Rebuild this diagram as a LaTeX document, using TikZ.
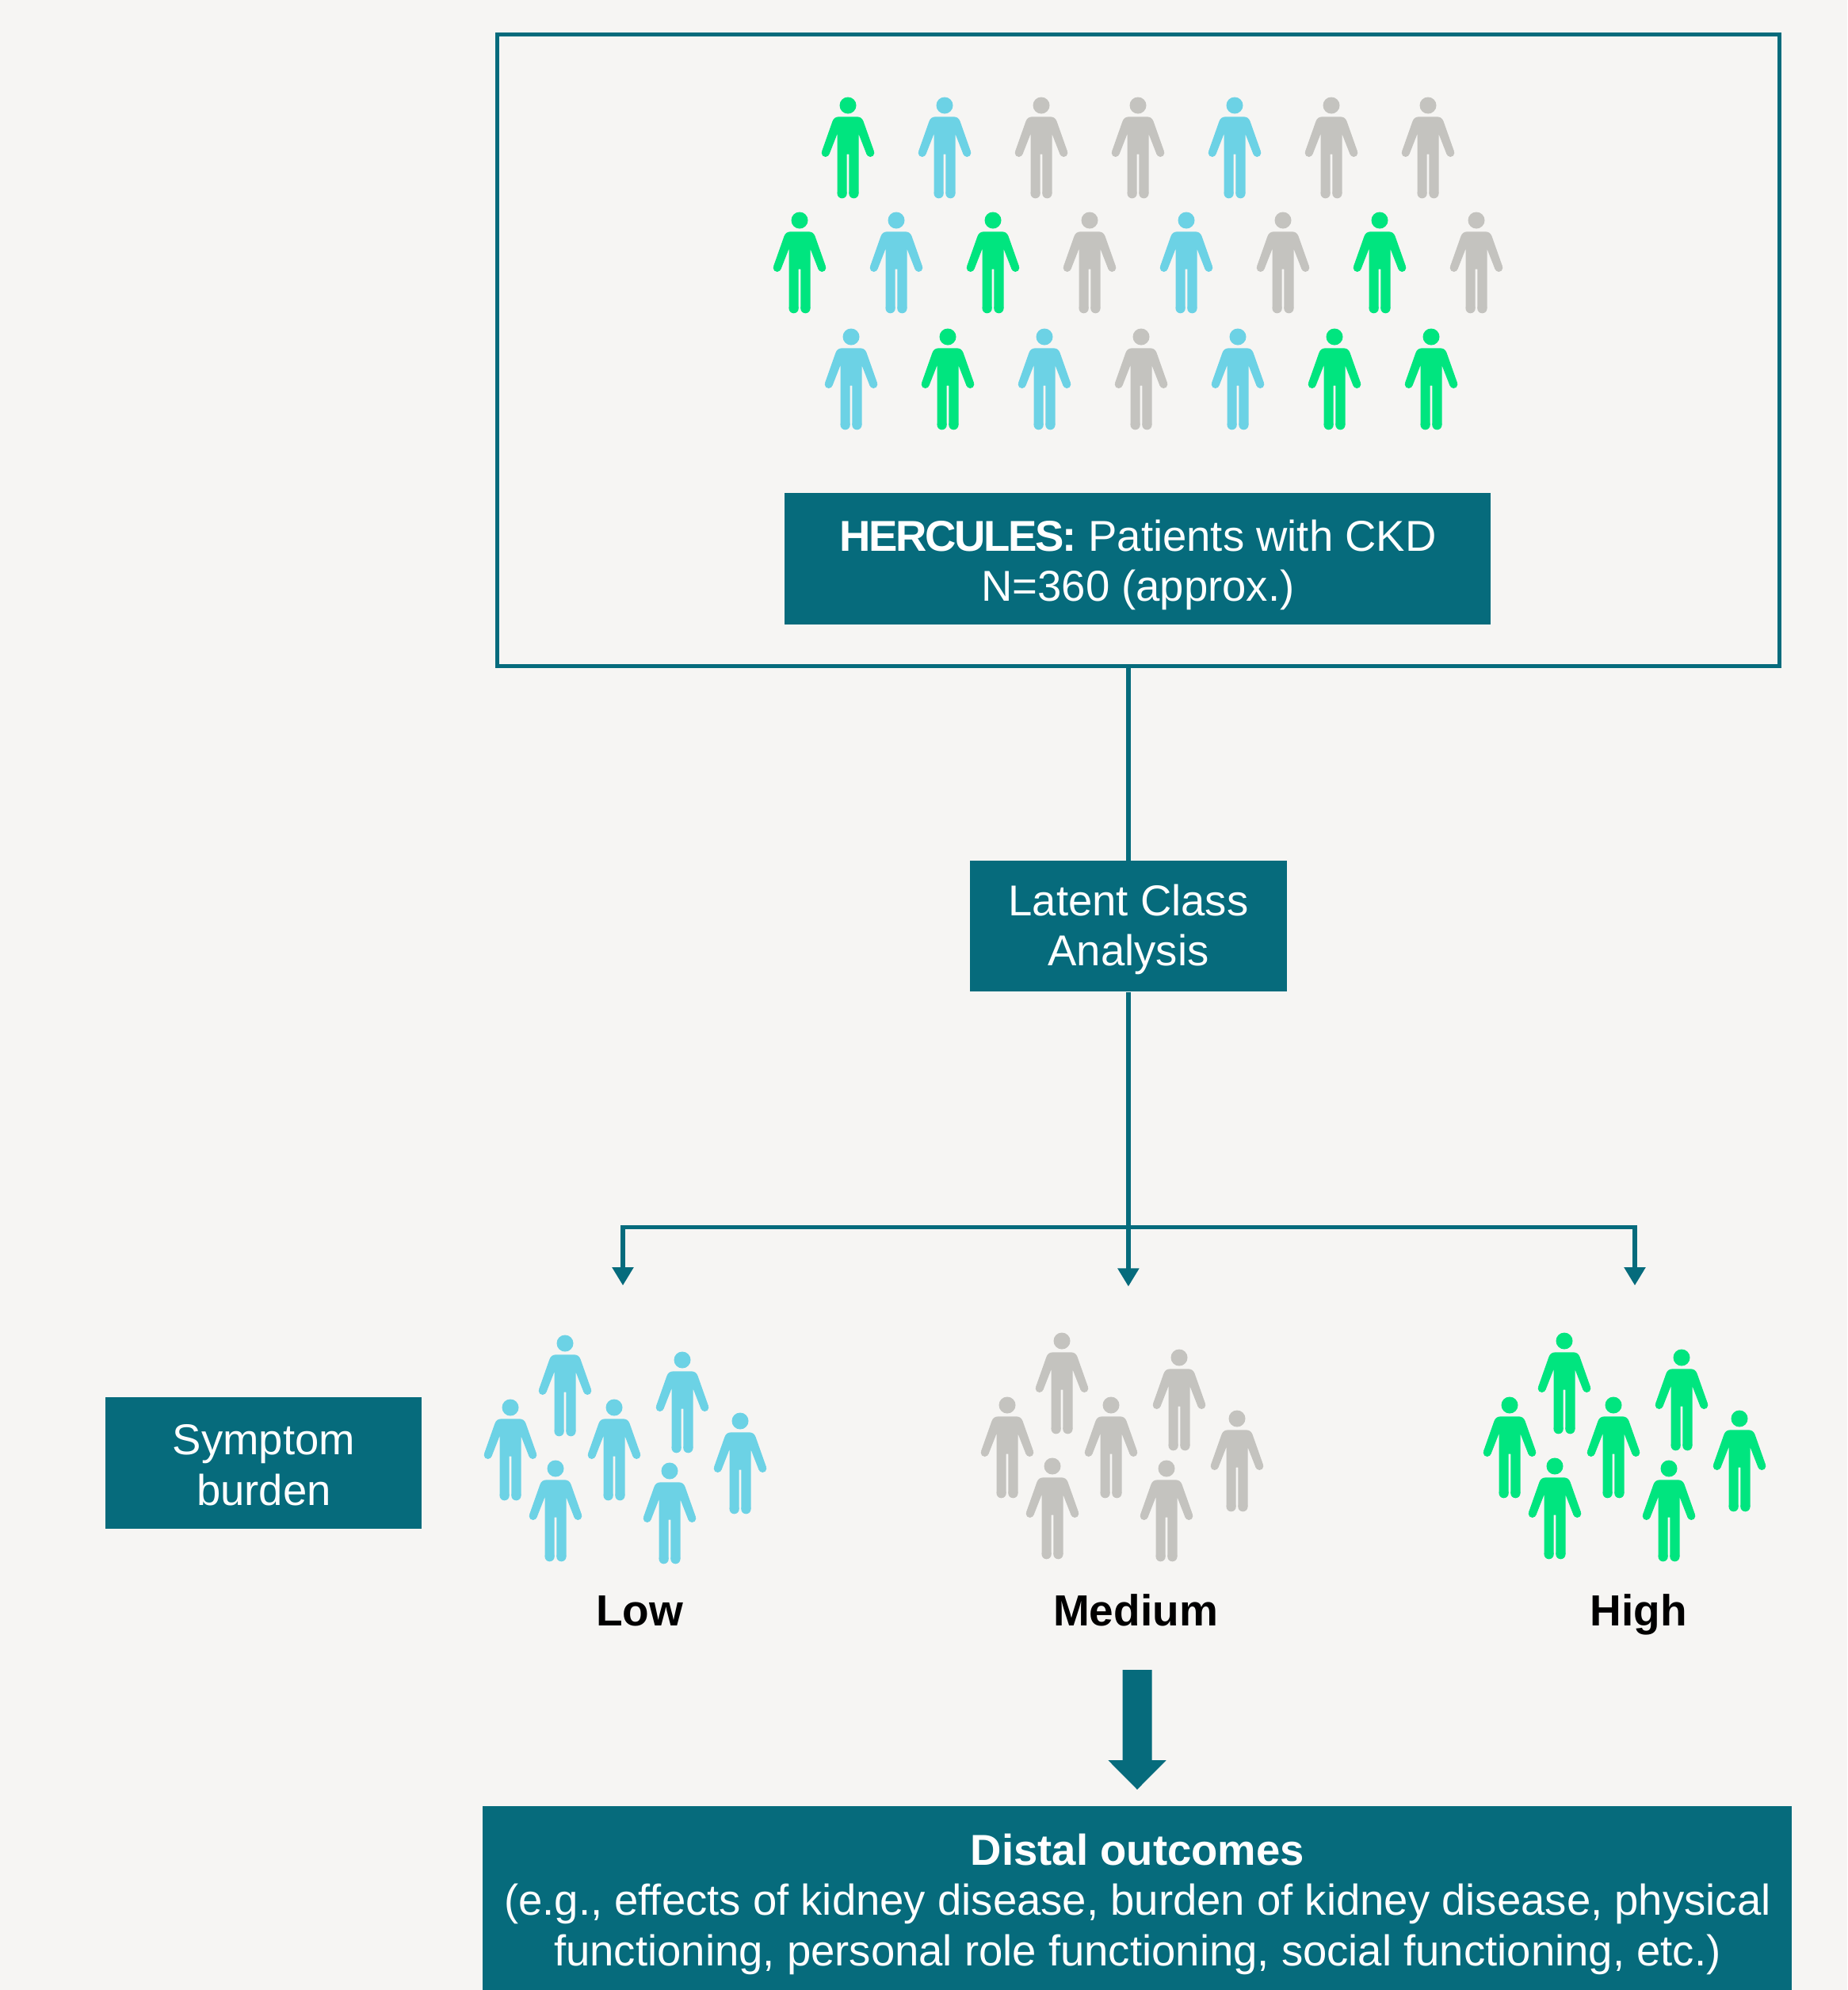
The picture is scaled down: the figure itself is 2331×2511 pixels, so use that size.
\documentclass[tikz,border=0pt]{standalone}
\usepackage{fontspec}
\setmainfont{Liberation Sans}
\usetikzlibrary{arrows.meta}
\definecolor{bgc}{HTML}{F6F5F3}
\definecolor{teal}{HTML}{066B7C}
\definecolor{pg}{HTML}{00E57F}
\definecolor{pb}{HTML}{6CD2E5}
\definecolor{py}{HTML}{C4C3BF}
\newcommand{\tstrut}[1]{\rule{0pt}{#1}}
\tikzset{
  tbox/.style={fill=teal,text=white,align=center,inner sep=0pt,font=\fontsize{27.25}{31.75}\selectfont},
  lab/.style={text=black,inner sep=0pt,anchor=base,font=\fontsize{27.5}{31.75}\selectfont\bfseries},
  conn/.style={draw=teal,line width=2.75pt},
  arr/.style={conn,-{Triangle[length=11.5pt,width=13pt]}},
  person/.pic={
    \fill (0,0) circle[radius=10.5];
    \fill (-28.3,60) circle[radius=5];
    \fill (28.3,60) circle[radius=5];
    \fill (-7.4,111.2) circle[radius=6.1];
    \fill (7.4,111.2) circle[radius=6.1];
    \fill (-13.5,36) -- (-23.6,61.8) -- (-33,58.2)
      -- (-19.5,20) .. controls (-18,16) and (-15,14.3) .. (-11,14.3) -- (11,14.3)
      .. controls (15,14.3) and (18,16) .. (19.5,20)
      -- (33,58.2) -- (23.6,61.8)
      -- (13.5,36) -- (13.5,111.2) -- (1.3,111.2)
      -- (1.3,61.6) -- (-1.3,61.6) -- (-1.3,111.2) -- (-13.5,111.2) -- cycle;
  }
}
\begin{document}
\begin{tikzpicture}[x=0.5pt,y=-0.5pt]
\useasboundingbox (0,0) rectangle (2331,2511);
\fill[bgc] (0,0) rectangle (2331,2511);
% main box
\node[draw=teal,line width=2.75pt,minimum width=809pt,minimum height=398.5pt,inner sep=0pt,anchor=north west] (mainbox) at (624.5,40.5) {};
\node[tbox,minimum width=445.5pt,minimum height=83pt,anchor=north west] (herc) at (990,622) {\tstrut{27pt}{\bfseries\addfontfeatures{LetterSpace=-4.3}HERCULES:} Patients with CKD\\N=360 (approx.)};
\node[tbox,minimum width=200pt,minimum height=82.5pt,anchor=north west] (latent) at (1223.5,1086) {\tstrut{23.6pt}Latent Class\\Analysis};
\node[tbox,minimum width=199.5pt,minimum height=83pt,anchor=north west] (symptom) at (133,1763) {\tstrut{21.2pt}Symptom\\burden};
\node[tbox,minimum width=826pt,minimum height=116pt,anchor=north west] (distal) at (609,2279) {\tstrut{27pt}\textbf{Distal outcomes}\\(e.g., effects of kidney disease, burden of kidney disease, physical\\functioning, personal role functioning, social functioning, etc.)};
\node[lab] (low) at (807,2051) {Low};
\node[lab] (medium) at (1433,2051) {Medium};
\node[lab] (high) at (2068,2051) {High};
% connectors
\coordinate (lowtip) at (786,1622);
\coordinate (hightip) at (2063,1622);
\path (latent.south) ++(0,296.5) coordinate (branch);
\path (latent.south) ++(0,371.5) coordinate (medtip);
\draw[conn] (mainbox.south -| latent.north) -- (latent.north);
\draw[conn] (latent.south) -- (branch);
\draw[arr] (branch) -- (medtip);
\draw[arr] (branch) -| (lowtip);
\draw[arr] (branch) -| (hightip);
% big arrow
\coordinate (bigtip) at (1435,2258);
\fill[teal] (1416.5,2107) -- (1453.5,2107) -- (1453.5,2221) -- (1471.7,2221) -- (bigtip) -- (1398.3,2221) -- (1416.5,2221) -- cycle;
% people
\foreach \x/\y/\c in {
 1070/133/pg,1192/133/pb,1314/133/py,1436/133/py,1558/133/pb,1680/133/py,1802/133/py,
 1009/278/pg,1131/278/pb,1253/278/pg,1375/278/py,1497/278/pb,1619/278/py,1741/278/pg,1863/278/py,
 1074/425/pb,1196/425/pg,1318/425/pb,1440/425/py,1562/425/pb,1684/425/pg,1806/425/pg}
  {\pic[fill=\c] at (\x,\y) {person};}
\foreach \dx/\dy/\c in {0/0/pb,627/-3/py,1261/-3/pg}
 \foreach \x/\y in {644/1776,713/1695,775/1776,861/1716,934/1793,701/1853,845/1856}
  {\pic[fill=\c] at ({\x+\dx},{\y+\dy}) {person};}
\end{tikzpicture}
\end{document}
